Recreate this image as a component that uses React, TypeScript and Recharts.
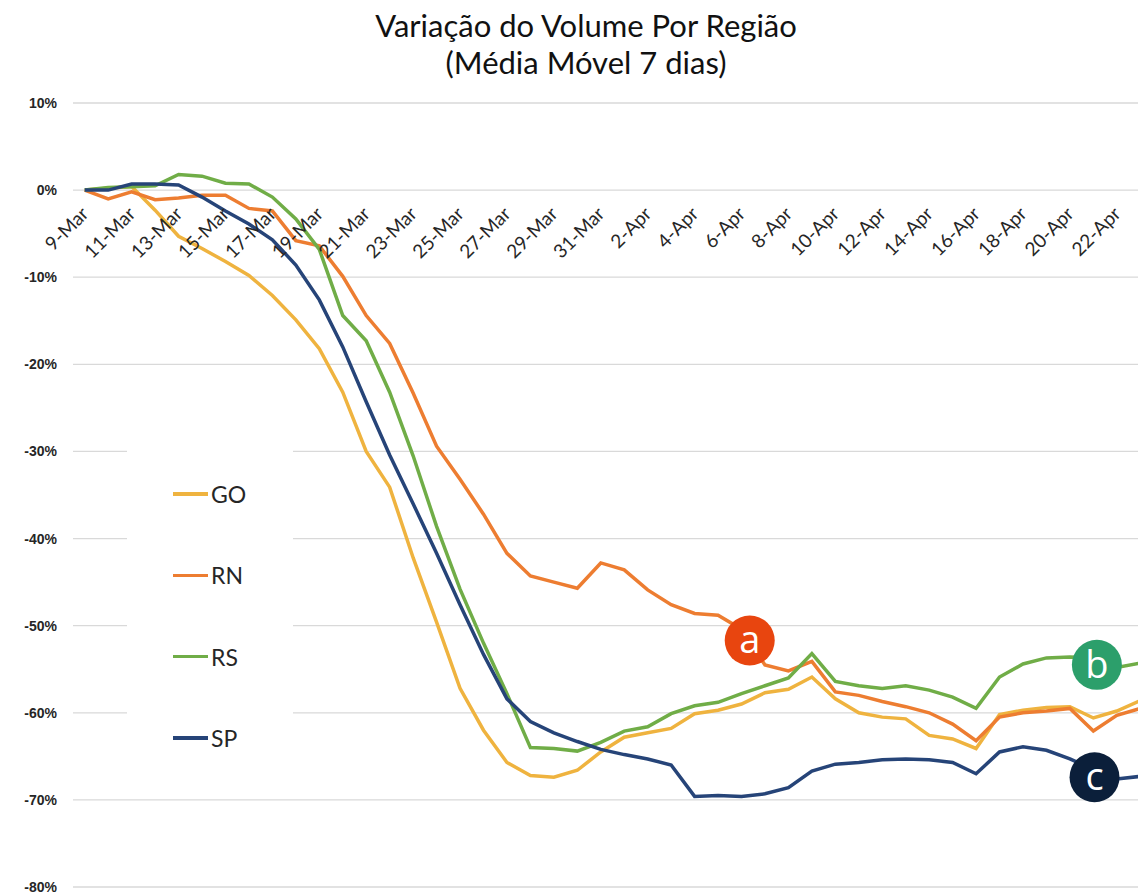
import React from "react";
import {
  LineChart,
  Line,
  XAxis,
  YAxis,
  CartesianGrid,
  Legend,
  ReferenceDot,
} from "recharts";

// daily dates, 9-Mar .. 23-Apr
const dates = [
  "9-Mar", "10-Mar", "11-Mar", "12-Mar", "13-Mar", "14-Mar", "15-Mar", "16-Mar",
  "17-Mar", "18-Mar", "19-Mar", "20-Mar", "21-Mar", "22-Mar", "23-Mar", "24-Mar",
  "25-Mar", "26-Mar", "27-Mar", "28-Mar", "29-Mar", "30-Mar", "31-Mar",
  "1-Apr", "2-Apr", "3-Apr", "4-Apr", "5-Apr", "6-Apr", "7-Apr", "8-Apr",
  "9-Apr", "10-Apr", "11-Apr", "12-Apr", "13-Apr", "14-Apr", "15-Apr", "16-Apr",
  "17-Apr", "18-Apr", "19-Apr", "20-Apr", "21-Apr", "22-Apr", "23-Apr",
];

// % variation, 7 day moving average
const go = [
  0, 0.2, 0.4, -2.3, -5.3, -6.7, -8.2, -9.8, -12.1, -14.9, -18.2, -23.2, -30.0,
  -34.1, -42.2, -49.6, -57.2, -62.0, -65.7, -67.2, -67.4, -66.6, -64.5, -62.8,
  -62.3, -61.8, -60.1, -59.7, -59.0, -57.7, -57.3, -55.9, -58.4, -60.0, -60.5,
  -60.7, -62.6, -63.0, -64.1, -60.2, -59.7, -59.4, -59.3, -60.6, -59.8, -58.6,
];
const rn = [
  0, -1.0, -0.2, -1.1, -0.9, -0.6, -0.6, -2.1, -2.4, -5.8, -6.4, -9.9, -14.4,
  -17.6, -23.3, -29.4, -33.2, -37.2, -41.7, -44.3, -45.0, -45.7, -42.8, -43.6,
  -45.9, -47.6, -48.6, -48.8, -50.4, -54.5, -55.2, -54.1, -57.6, -58.0, -58.7,
  -59.3, -60.0, -61.3, -63.2, -60.5, -60.0, -59.8, -59.5, -62.1, -60.3, -59.5,
];
const rs = [
  0, 0.3, 0.4, 0.5, 1.8, 1.6, 0.8, 0.7, -0.8, -3.3, -6.8, -14.4, -17.3, -23.2,
  -30.5, -38.6, -45.8, -52.0, -57.8, -64.0, -64.1, -64.4, -63.4, -62.1, -61.6,
  -60.1, -59.2, -58.8, -57.8, -56.9, -56.0, -53.2, -56.4, -56.9, -57.2, -56.9,
  -57.4, -58.2, -59.5, -55.9, -54.4, -53.7, -53.6, -53.7, -54.8, -54.3,
];
const sp = [
  0, 0, 0.7, 0.7, 0.6, -0.8, -2.4, -3.9, -5.7, -8.6, -12.6, -18.0, -24.3, -30.4,
  -36.0, -41.7, -47.6, -53.3, -58.4, -61.0, -62.3, -63.3, -64.2, -64.8, -65.3,
  -66.0, -69.6, -69.5, -69.6, -69.3, -68.6, -66.7, -65.9, -65.7, -65.4, -65.3,
  -65.4, -65.7, -67.0, -64.5, -63.9, -64.3, -65.3, -66.5, -67.6, -67.3,
];

const yTicks = [10, 0, -10, -20, -30, -40, -50, -60, -70, -80];
const xTicks = dates.map((_, i) => i).filter((i) => i % 2 === 0);

// callouts a / b / c (x in day index, y in %)
const notes = [
  { letter: "a", idx: 28.35, value: -51.7, color: "#E8450F" },
  { letter: "b", idx: 43.15, value: -54.5, color: "#2C9F6B" },
  { letter: "c", idx: 43.05, value: -67.4, color: "#0B1F3A" },
];

const data = dates.map((d, i) => ({
  idx: i,
  date: d,
  GO: go[i],
  RN: rn[i],
  RS: rs[i],
  SP: sp[i],
}));

const TOP = 103;
const PLOT_H = 784;
const ZERO_Y = TOP + PLOT_H * (10 / 90);

const renderDateTick = (props: any) => {
  const { x, payload } = props;
  const tx = x + 5;
  const ty = ZERO_Y + 25;
  return (
    <text
      key={`t-${payload.value}`}
      x={tx}
      y={ty}
      transform={`rotate(-45, ${tx}, ${ty})`}
      textAnchor="end"
      style={{ fontFamily: "Lato", fontSize: 19 }}
      fill="#262626"
    >
      {dates[payload.value]}
    </text>
  );
};

const renderLegend = (props: any) => {
  const { payload } = props;
  return (
    <div style={{ position: "relative", width: 166, height: 325, background: "#fff" }}>
      {(payload || []).map((p: any, i: number) => (
        <div
          key={p.value}
          style={{
            position: "absolute",
            left: 46,
            top: 54 + i * 81.3 - 15,
            height: 30,
            display: "flex",
            alignItems: "center",
          }}
        >
          <span style={{ display: "inline-block", width: 35, height: 3.5, background: p.color }} />
          <span style={{ marginLeft: 3, fontFamily: "Lato", fontSize: 23, color: "#262626" }}>
            {p.value}
          </span>
        </div>
      ))}
    </div>
  );
};

const badge = (color: string, letter: string) => (props: any) => (
  <g>
    <circle cx={props.cx} cy={props.cy} r={25} fill={color} />
    <text
      x={props.cx}
      y={props.cy}
      dy={13}
      textAnchor="middle"
      fill="#fff"
      fontFamily="Open Sans"
      fontSize={38}
    >
      {letter}
    </text>
  </g>
);

export default function App() {
  return (
    <div
      style={{
        position: "absolute",
        left: 0,
        top: 0,
        width: 1138,
        height: 895,
        overflow: "hidden",
        background: "#fff",
      }}
    >
      <div
        style={{
          position: "absolute",
          left: 0,
          top: 7,
          width: 1172,
          textAlign: "center",
          fontFamily: "Lato",
          fontSize: 31,
          lineHeight: "37px",
          color: "#111",
          zIndex: 2,
        }}
      >
        Variação do Volume Por Região
        <br />
        (Média Móvel 7 dias)
      </div>
      <LineChart
        width={1172}
        height={895}
        data={data}
        margin={{ top: TOP, right: 20, bottom: 7, left: 0 }}
      >
        <CartesianGrid vertical={false} stroke="#D9D9D9" strokeWidth={1.3} />
        <XAxis
          dataKey="idx"
          type="number"
          domain={[-0.5, 45.5]}
          ticks={xTicks}
          interval={0}
          height={1}
          axisLine={false}
          tickLine={false}
          tick={renderDateTick}
        />
        <YAxis
          type="number"
          domain={[-80, 10]}
          ticks={yTicks}
          width={73}
          axisLine={false}
          tickLine={false}
          tickSize={0}
          tickMargin={16}
          tickFormatter={(v: number) => `${v}%`}
          tick={{ fontSize: 14, fontWeight: 700, fill: "#262626", fontFamily: "Liberation Sans" }}
        />
        <Legend
          layout="vertical"
          align="center"
          verticalAlign="middle"
          wrapperStyle={{ left: 127, top: 440, width: 166, height: 325 }}
          content={renderLegend}
        />
        <Line type="linear" dataKey="GO" name="GO" stroke="#EFB33F" strokeWidth={3.5} dot={false} isAnimationActive={false} />
        <Line type="linear" dataKey="RN" name="RN" stroke="#ED7D31" strokeWidth={3.5} dot={false} isAnimationActive={false} />
        <Line type="linear" dataKey="RS" name="RS" stroke="#70AD47" strokeWidth={3.5} dot={false} isAnimationActive={false} />
        <Line type="linear" dataKey="SP" name="SP" stroke="#264478" strokeWidth={3.5} dot={false} isAnimationActive={false} />
        {notes.map((n) => (
          <ReferenceDot
            key={n.letter}
            x={n.idx}
            y={n.value}
            r={25}
            shape={badge(n.color, n.letter)}
          />
        ))}
      </LineChart>
    </div>
  );
}
